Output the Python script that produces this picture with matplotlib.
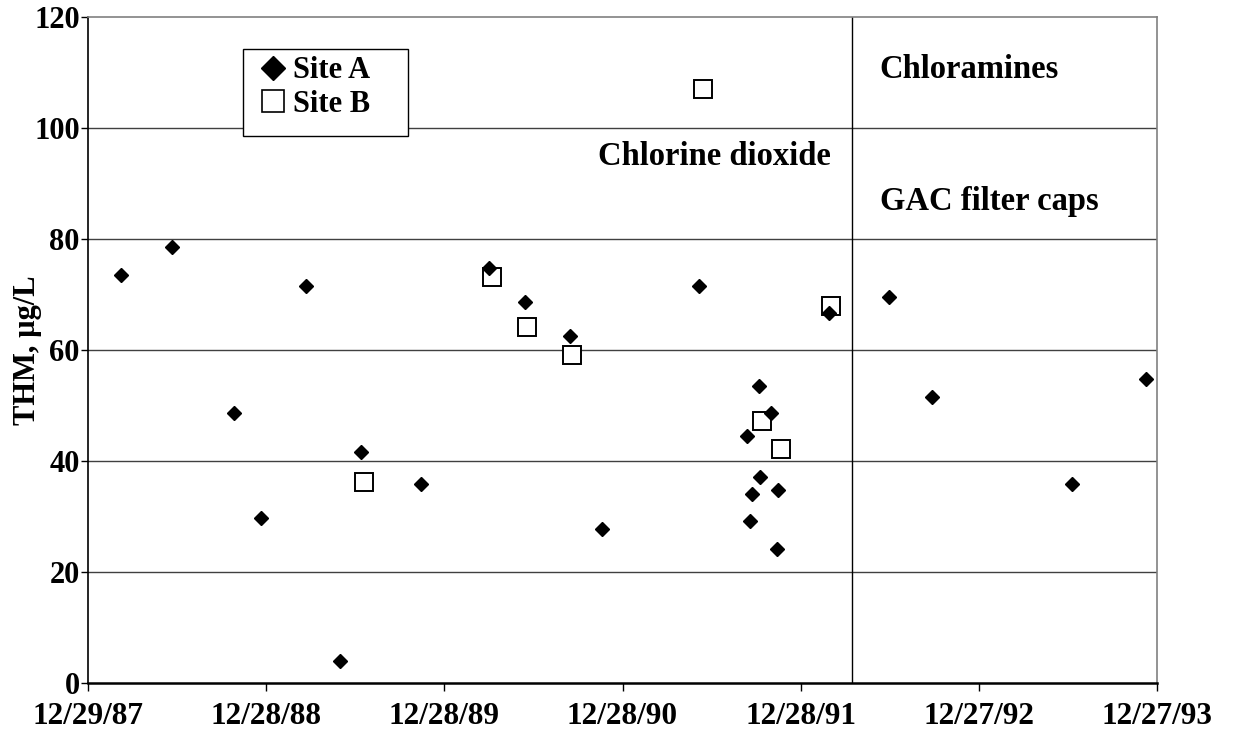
import pandas as pd
import matplotlib
matplotlib.use('Agg')
from matplotlib import pyplot as plt
from matplotlib.lines import Line2D
from matplotlib.patches import Rectangle


# Site A samples (diamonds)
site_a_dates = ['1988-03-05', '1988-06-18', '1988-10-24', '1988-12-17', '1989-03-19',
                '1989-05-28', '1989-07-11', '1989-11-10', '1990-03-29', '1990-06-11',
                '1990-09-11', '1990-11-16', '1991-06-03', '1991-09-09', '1991-09-15',
                '1991-09-20', '1991-10-04', '1991-10-06', '1991-10-28', '1991-11-10',
                '1991-11-12', '1992-02-24', '1992-06-26', '1992-09-22', '1993-07-06',
                '1993-12-04']
site_a_thm = [73.6, 78.6, 48.6, 29.7, 71.5,
              4.0, 41.7, 35.8, 74.7, 68.6,
              62.6, 27.7, 71.6, 44.5, 29.2,
              34.1, 53.6, 37.2, 48.6, 24.1,
              34.7, 66.6, 69.5, 51.6, 35.8,
              54.8]

# Site B samples (open squares)
site_b_dates = ['1989-07-16', '1990-04-05', '1990-06-16', '1990-09-16', '1991-06-11',
                '1991-10-09', '1991-11-18', '1992-02-29']
site_b_thm = [36.2, 73.2, 64.1, 59.1, 107.0, 47.2, 42.1, 68.0]

# treatment change and axis ticks
switch_date = '1992-04-11'
tick_dates = ['1987-12-29', '1988-12-28', '1989-12-28', '1990-12-28',
              '1991-12-28', '1992-12-27', '1993-12-27']
tick_labels = ['12/29/87', '12/28/88', '12/28/89', '12/28/90',
               '12/28/91', '12/27/92', '12/27/93']
y_ticks = [0, 20, 40, 60, 80, 100, 120]

plt.rcParams['font.family'] = ['Liberation Serif', 'DejaVu Serif']
plt.rcParams['font.weight'] = 'bold'
plt.rcParams['font.size'] = 22

fig = plt.figure(figsize=(12.39, 7.29), dpi=100)
ax = fig.add_axes([88 / 1239, 1 - 683 / 729, (1157 - 88) / 1239, (683 - 17) / 729])

ax.plot(pd.to_datetime(site_a_dates), site_a_thm, linestyle='none', marker='D',
        ms=6.8, color='black', zorder=4)
ax.plot(pd.to_datetime(site_b_dates), site_b_thm, linestyle='none', marker='s',
        ms=12.5, mfc='white', mec='black', mew=1.4, zorder=3)

ax.axvline(pd.to_datetime(switch_date), color='black', lw=1.0, zorder=2)

tick_dt = pd.to_datetime(tick_dates)
ax.set_xlim(tick_dt[0], tick_dt[-1])
ax.set_xticks(tick_dt)
ax.set_xticklabels(tick_labels, fontsize=22.5)
ax.set_ylim(0, 120)
ax.set_yticks(y_ticks)

# horizontal grid
for v in y_ticks[1:-1]:
    ax.axhline(v, color='#404040', lw=1.0, zorder=1)

ax.spines['left'].set_color('black')
ax.spines['left'].set_linewidth(1.2)
ax.spines['bottom'].set_color('black')
ax.spines['bottom'].set_linewidth(1.8)
ax.spines['top'].set_color('#808080')
ax.spines['top'].set_linewidth(1.2)
ax.spines['right'].set_color('#808080')
ax.spines['right'].set_linewidth(1.2)
ax.spines['bottom'].set_zorder(5)

ax.tick_params(axis='x', direction='out', length=6, width=1.0, pad=8)
ax.tick_params(axis='y', direction='out', length=5, width=1.0, pad=1)

ax.set_ylabel('THM, \u00b5g/L', fontweight='bold')
ax.yaxis.set_label_coords(-0.043, 0.5)

# treatment notes
ax.text(pd.to_datetime('1990-11-08'), 94.8, 'Chlorine dioxide', va='center', ha='left', fontsize=23.5)
ax.text(pd.to_datetime('1992-06-07'), 110.5, 'Chloramines', va='center', ha='left', fontsize=23.5)
ax.text(pd.to_datetime('1992-06-07'), 86.7, 'GAC filter caps', va='center', ha='left', fontsize=23.5)

# legend box
fig.patches.append(Rectangle((243 / 1239, 1 - 136 / 729), 165 / 1239, 87 / 729,
                             transform=fig.transFigure, facecolor='white',
                             edgecolor='black', lw=1.0, zorder=6))
handles = [Line2D([], [], linestyle='none', marker='D', ms=12.5, color='black'),
           Line2D([], [], linestyle='none', marker='s', ms=16.5, mfc='white',
                  mec='black', mew=1.2)]
leg = fig.legend(handles, ['Site A', 'Site B'], loc='upper left',
                 bbox_to_anchor=(241 / 1239, 1 - 38 / 729), frameon=False,
                 handlelength=0.9, handletextpad=0.2, labelspacing=0.15,
                 borderpad=0.1, fontsize=22)
leg.set_zorder(7)

fig.savefig('out.png', dpi=100)
